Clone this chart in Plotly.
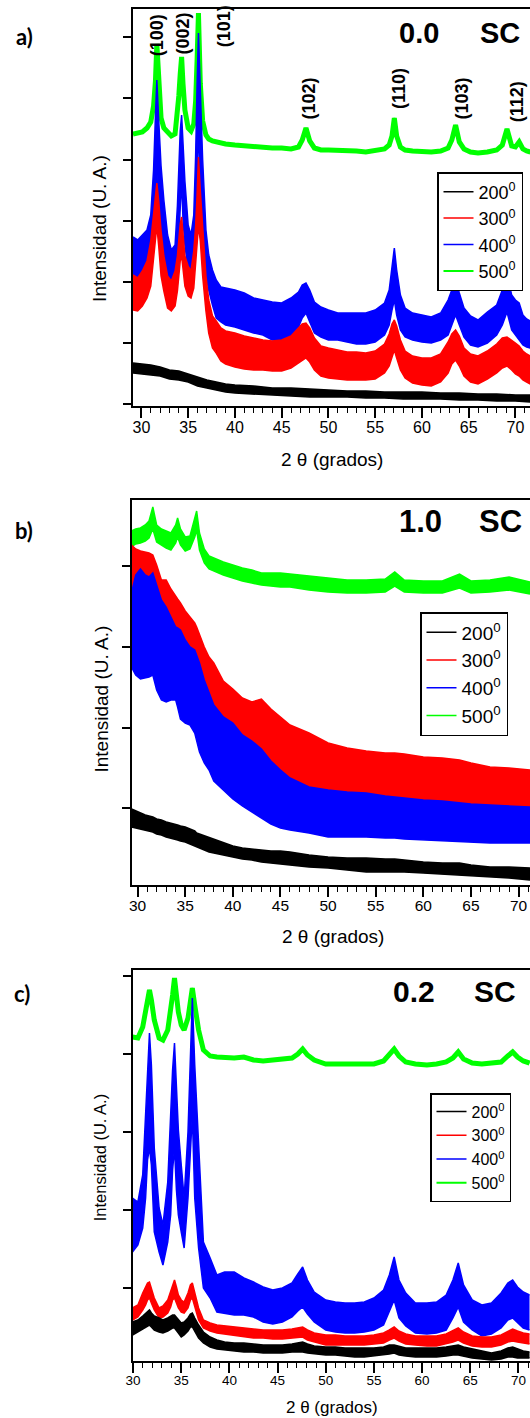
import plotly.graph_objects as go

W, H = 530, 1418

# ---------------- data: panel a) 0.0 SC ----------------
XA = [29.1, 29.6, 30.1, 30.6, 31.0, 31.3, 31.5, 31.65, 31.85, 32.1,
      32.4, 32.8, 33.2, 33.6, 33.85, 34.0, 34.15, 34.3, 34.45, 34.65,
      35.0, 35.3, 35.6, 35.8, 35.95, 36.1, 36.3, 36.55, 36.9, 37.2,
      37.6, 38.0, 38.5, 39.0, 40.0, 41.0, 42.0, 43.0, 44.0, 45.0,
      46.0, 46.8, 47.2, 47.6, 48.0, 48.5, 49.2, 50.0, 51.0, 52.0,
      53.0, 54.0, 55.0, 56.0, 56.5, 56.8, 57.05, 57.3, 57.7, 58.2,
      59.0, 60.0, 61.0, 62.0, 62.8, 63.2, 63.6, 64.0, 64.5, 65.2,
      66.0, 67.0, 68.0, 68.6, 69.1, 69.6, 70.0, 70.4, 70.8, 71.2,
      71.6]
A_500 = [272, 273, 274, 278, 284, 300, 325, 362, 318, 288,
         278, 273, 270, 272, 290, 310, 332, 349, 322, 296,
         278, 275, 282, 305, 345, 393, 322, 285, 271, 267,
         265, 264, 263, 262, 261, 260, 259, 259, 258, 258,
         257, 259, 266, 278, 265, 258, 256, 256, 256, 255,
         255, 254, 255, 257, 261, 270, 288, 270, 259, 256,
         255, 254, 254, 255, 258, 266, 281, 264, 257, 254,
         253, 254, 256, 261, 277, 260, 259, 264, 257, 255,
         254]
A_400_HI = [169, 166, 171, 176, 191, 236, 290, 326, 286, 240,
            206, 171, 156, 161, 200, 245, 275, 291, 266, 225,
            181, 171, 191, 250, 320, 373, 316, 246, 176, 151,
            136, 126, 119, 118, 116, 113, 108, 106, 104, 103,
            108, 114, 121, 123, 116, 104, 99, 96, 93, 93,
            93, 93, 96, 103, 116, 141, 158, 136, 111, 98,
            93, 91, 89, 93, 106, 116, 126, 113, 98, 90,
            86, 94, 101, 116, 131, 111, 106, 103, 91, 87,
            85]
A_400_LO = [126, 121, 126, 131, 151, 166, 190, 236, 186, 163,
            146, 126, 119, 121, 141, 171, 200, 226, 186, 161,
            136, 131, 141, 176, 226, 286, 206, 156, 131, 116,
            101, 88, 84, 81, 79, 76, 73, 71, 66, 66,
            70, 79, 88, 93, 84, 73, 69, 66, 66, 64,
            62, 62, 64, 71, 81, 96, 106, 91, 76, 69,
            66, 64, 63, 66, 71, 81, 91, 81, 69, 61,
            59, 63, 71, 81, 94, 76, 71, 66, 61, 59,
            58]
A_300_HI = [131, 128, 135, 145, 165, 190, 210, 223, 205, 175,
            150, 130, 125, 135, 150, 170, 182, 189, 175, 150,
            140, 135, 155, 180, 210, 249, 215, 175, 130, 106,
            90, 85, 78, 75, 73, 70, 68, 66, 65, 66,
            70, 78, 82, 83, 78, 68, 60, 58, 56, 54,
            54, 53, 55, 62, 72, 82, 86, 80, 66, 55,
            50, 48, 48, 52, 64, 72, 76, 70, 58, 52,
            50, 55, 62, 68, 69, 66, 63, 60, 55, 52,
            50]
A_300_LO = [96, 95, 100, 108, 120, 145, 165, 180, 160, 130,
            115, 98, 95, 100, 115, 130, 145, 150, 138, 120,
            110, 108, 118, 140, 160, 180, 165, 130, 95, 73,
            58, 53, 45, 42, 39, 37, 36, 36, 35, 35,
            38, 43, 46, 48, 44, 36, 30, 28, 27, 26,
            26, 26, 27, 33, 40, 50, 56, 48, 36, 28,
            23, 21, 20, 24, 33, 42, 46, 40, 30, 24,
            22, 27, 33, 38, 40, 36, 32, 30, 26, 24,
            22]
XA_200 = [29.1, 30, 31, 32, 33, 34, 35, 36, 37, 38, 39, 40, 42, 44,
          46, 48, 50, 52, 54, 56, 58, 60, 62, 64, 66, 68, 70, 71.6]
A_200_HI = [43, 42, 41, 39, 36, 35, 32, 29, 26, 24, 22, 21, 20, 18,
            18, 17, 16, 15, 15, 14, 14, 14, 13, 13, 12, 12, 11, 11]
A_200_LO = [33, 32, 31, 30, 27, 26, 24, 20, 18, 16, 14, 13, 12, 11,
            10, 9, 9, 9, 8, 8, 7, 7, 7, 6, 6, 5, 5, 4]

MILLER_LABELS = ["(100)", "(002)", "(101)", "(102)", "(110)", "(103)", "(112)"]
MILLER_X = [31.7, 34.4, 38.86, 47.97, 57.55, 64.24, 70.2]
MILLER_Y = [371, 372, 380, 308, 317, 307, 304]

# ---------------- data: panel b) 1.0 SC ----------------
XB = [29.36, 29.8, 30.3, 30.8, 31.2, 31.6, 32.0, 32.5, 33.0, 33.5,
      34.0, 34.2, 34.5, 35.0, 35.5, 36.0, 36.2, 36.5, 37.0, 37.5,
      38.0, 39.0, 40.0, 41.0, 42.0, 43.0, 44.0, 45.0, 46.0, 48.0,
      50.0, 52.0, 54.0, 56.0, 57.0, 58.0, 60.0, 62.0, 63.8, 65.0,
      67.0, 69.0, 71.2]
B_500_HI = [354, 356, 357, 360, 364, 378, 360, 356, 354, 352,
            360, 367, 356, 348, 349, 366, 374, 352, 336, 329,
            327, 323, 320, 317, 315, 312, 312, 312, 311, 309,
            307, 305, 305, 306, 313, 305, 304, 304, 311, 304,
            305, 308, 303]
B_500_LO = [338, 341, 342, 344, 347, 356, 343, 340, 337, 335,
            342, 348, 340, 334, 336, 348, 355, 335, 322, 316,
            314, 310, 307, 304, 302, 300, 299, 298, 298, 295,
            293, 292, 292, 293, 299, 293, 292, 292, 297, 292,
            293, 295, 291]
B_300_HI = [340, 336, 334, 333, 332, 330, 320, 305, 305, 296,
            288, 286, 282, 274, 268, 262, 258, 250, 238, 228,
            222, 204, 196, 187, 183, 186, 176, 168, 160, 152,
            142, 137, 134, 132, 132, 131, 128, 127, 125, 122,
            118, 117, 115]
B_300_LO = [260, 258, 255, 250, 248, 245, 235, 225, 215, 205,
            195, 192, 185, 178, 170, 160, 158, 150, 138, 128,
            120, 112, 105, 100, 96, 92, 88, 85, 82, 80,
            78, 76, 75, 74, 74, 73, 72, 71, 70, 69,
            67, 66, 65]
B_400_HI = [292, 310, 316, 310, 308, 312, 300, 285, 278, 268,
            258, 257, 255, 245, 238, 235, 230, 222, 205, 192,
            180, 168, 162, 150, 144, 136, 124, 115, 107, 98,
            95, 93, 92, 89, 88, 87, 85, 84, 82, 81,
            80, 79, 78]
B_400_LO = [218, 210, 206, 207, 208, 210, 195, 185, 183, 185,
            185, 178, 166, 162, 160, 152, 145, 133, 122, 115,
            104, 95, 86, 79, 73, 67, 61, 57, 55, 52,
            48, 48, 48, 47, 47, 46, 45, 44, 43, 43,
            42, 42, 42]
B_200_HI = [76, 74, 72, 70, 69, 68, 66, 65, 63, 62,
            61, 60, 59, 58, 56, 54, 52, 51, 49, 47,
            46, 42, 39, 37, 36, 35, 34, 34, 33, 30,
            28, 27, 27, 26, 26, 25, 23, 22, 22, 20,
            18, 18, 17]
B_200_LO = [58, 57, 56, 55, 54, 53, 51, 50, 48, 47,
            46, 45, 44, 43, 41, 39, 38, 37, 35, 33,
            32, 30, 28, 26, 25, 23, 22, 21, 20, 18,
            17, 15, 13, 13, 13, 13, 12, 11, 10, 9,
            8, 7, 5]

# ---------------- data: panel c) 0.2 SC ----------------
XC = [29.94, 30.5, 31.0, 31.3, 31.5, 31.7, 31.9, 32.2, 32.7, 33.1,
      33.6, 33.9, 34.1, 34.3, 34.5, 34.7, 35.0, 35.3, 35.7, 35.95,
      36.15, 36.4, 36.8, 37.3, 38.0, 38.7, 39.5, 40.5, 41.5, 42.5,
      43.5, 44.5, 45.5, 46.5, 47.1, 47.6, 48.1, 48.8, 50.0, 51.0,
      52.0, 53.0, 54.0, 55.0, 56.0, 56.6, 57.1, 57.6, 58.3, 59.3,
      60.5, 61.5, 62.5, 63.2, 63.75, 64.3, 65.2, 66.2, 67.2, 68.2,
      68.9, 69.4, 69.9, 70.5, 71.15]
C_500 = [324, 323, 334, 353, 366, 371, 361, 341, 323, 321,
         331, 349, 366, 383, 366, 349, 336, 331, 343, 361,
         373, 356, 331, 311, 305, 304, 303, 303, 304, 301,
         300, 301, 301, 303, 307, 312, 306, 301, 297, 297,
         296, 296, 296, 297, 300, 306, 312, 305, 299, 297,
         296, 297, 299, 303, 309, 302, 298, 297, 298, 299,
         305, 309, 304, 300, 298]
C_400_HI = [163, 159, 186, 246, 301, 328, 296, 213, 153, 136,
            179, 246, 291, 318, 271, 231, 196, 163, 229, 311,
            363, 296, 213, 119, 103, 86, 89, 89, 83, 79,
            74, 71, 73, 78, 87, 94, 81, 69, 61, 59,
            58, 58, 59, 63, 71, 86, 104, 81, 68, 58,
            58, 59, 66, 81, 98, 76, 61, 56, 58, 68,
            78, 81, 74, 69, 66]
C_400_LO = [109, 116, 133, 163, 201, 213, 196, 129, 109, 96,
            119, 146, 191, 213, 171, 146, 129, 113, 163, 211,
            246, 163, 113, 73, 63, 49, 48, 46, 46, 44,
            39, 37, 39, 44, 50, 54, 47, 39, 31, 29,
            28, 28, 29, 31, 36, 49, 61, 43, 35, 28,
            27, 28, 31, 43, 54, 39, 31, 25, 27, 33,
            41, 43, 38, 33, 31]
C_300_HI = [53, 56, 68, 74, 78, 79, 73, 63, 53, 55,
            61, 69, 76, 81, 74, 66, 61, 59, 68, 76,
            78, 69, 53, 41, 38, 36, 35, 34, 33, 32,
            31, 31, 31, 32, 33, 34, 31, 28, 26, 26,
            25, 25, 25, 26, 28, 31, 34, 30, 27, 25,
            25, 25, 27, 30, 33, 29, 25, 24, 24, 26,
            30, 32, 30, 28, 27]
C_300_LO = [41, 44, 51, 56, 61, 63, 58, 51, 43, 44,
            48, 54, 61, 63, 58, 53, 49, 48, 53, 61,
            63, 55, 41, 33, 30, 28, 27, 25, 24, 23,
            23, 22, 22, 23, 23, 24, 21, 19, 16, 16,
            16, 16, 16, 17, 18, 21, 23, 20, 17, 16,
            15, 15, 17, 19, 21, 18, 15, 14, 14, 16,
            19, 20, 19, 18, 17]
C_200_HI = [39, 41, 45, 48, 50, 51, 48, 45, 43, 41,
            43, 45, 46, 46, 44, 41, 38, 39, 43, 47,
            48, 43, 36, 29, 24, 21, 19, 18, 18, 17,
            16, 16, 16, 17, 18, 19, 17, 15, 14, 14,
            13, 13, 13, 13, 14, 16, 16, 15, 13, 13,
            13, 13, 14, 15, 16, 14, 12, 10, 8, 10,
            13, 14, 12, 10, 9]
C_200_LO = [26, 29, 32, 34, 35, 36, 34, 31, 29, 28,
            30, 32, 33, 33, 31, 28, 24, 26, 30, 34,
            34, 30, 23, 18, 14, 12, 11, 10, 9, 9,
            8, 8, 8, 9, 9, 9, 8, 7, 6, 6,
            5, 4, 4, 5, 6, 7, 8, 6, 5, 4,
            4, 4, 5, 6, 6, 5, 3, 2, 1, 2,
            4, 4, 3, 3, 3]

COLORS = {"200": "#000000", "300": "#ff0000", "400": "#0000ff", "500": "#00ff00"}
RANK = {"200": 1, "300": 2, "400": 3, "500": 4}
FONT = "Arial, 'Liberation Sans', sans-serif"

fig = go.Figure()


def label(key):
    return key + "<sup>0</sup>"


def band(x, lo, hi, key, xa, ya, leg):
    c = COLORS[key]
    fig.add_trace(go.Scatter(x=x, y=lo, mode="lines", line=dict(color=c, width=1.5),
                             name=label(key), legend=leg, legendrank=RANK[key],
                             xaxis=xa, yaxis=ya, hoverinfo="skip"))
    fig.add_trace(go.Scatter(x=x, y=hi, mode="lines", line=dict(color=c, width=1.5),
                             fill="tonexty", fillcolor=c, showlegend=False,
                             xaxis=xa, yaxis=ya, hoverinfo="skip"))


def thick(x, y, key, xa, ya, leg, width):
    c = COLORS[key]
    fig.add_trace(go.Scatter(x=x, y=y, mode="lines", line=dict(color=c, width=2),
                             name=label(key), legend=leg, legendrank=RANK[key],
                             xaxis=xa, yaxis=ya, hoverinfo="skip"))
    fig.add_trace(go.Scatter(x=x, y=y, mode="lines", line=dict(color=c, width=width),
                             showlegend=False, xaxis=xa, yaxis=ya, hoverinfo="skip"))


# panel a (red drawn over blue)
thick(XA, A_500, "500", "x", "y", "legend", 5)
band(XA, A_400_LO, A_400_HI, "400", "x", "y", "legend")
band(XA, A_300_LO, A_300_HI, "300", "x", "y", "legend")
band(XA_200, A_200_LO, A_200_HI, "200", "x", "y", "legend")
# panel b (blue drawn over red)
band(XB, B_500_LO, B_500_HI, "500", "x2", "y2", "legend2")
band(XB, B_300_LO, B_300_HI, "300", "x2", "y2", "legend2")
band(XB, B_400_LO, B_400_HI, "400", "x2", "y2", "legend2")
band(XB, B_200_LO, B_200_HI, "200", "x2", "y2", "legend2")
# panel c
thick(XC, C_500, "500", "x3", "y3", "legend3", 5)
band(XC, C_400_LO, C_400_HI, "400", "x3", "y3", "legend3")
band(XC, C_300_LO, C_300_HI, "300", "x3", "y3", "legend3")
band(XC, C_200_LO, C_200_HI, "200", "x3", "y3", "legend3")


def px(v):
    return v / W


def py(v):
    return 1 - v / H


def xaxis(left, rng, fs, anchor):
    return dict(domain=[px(left), 1], range=rng, anchor=anchor,
                showline=True, linecolor="black", linewidth=1.5, mirror=True,
                ticks="outside", ticklen=10, tickwidth=1.5, tickcolor="black",
                tick0=0, dtick=5, ticklabelstandoff=-4,
                minor=dict(dtick=1, ticks="outside", ticklen=5, tickwidth=1.2, tickcolor="black"),
                tickfont=dict(family=FONT, size=fs, color="black"),
                showgrid=False, zeroline=False)


def yaxis(top, bottom, rng, t0, dt, anchor):
    return dict(domain=[py(bottom), py(top)], range=rng, anchor=anchor,
                showline=True, linecolor="black", linewidth=1.5, mirror=False,
                ticks="outside", ticklen=8, tickwidth=1.5, tickcolor="black",
                tick0=t0, dtick=dt, showticklabels=False,
                showgrid=False, zeroline=False)


fig.update_layout(
    width=W, height=H,
    margin=dict(l=0, r=0, t=0, b=0, autoexpand=False),
    paper_bgcolor="white", plot_bgcolor="white",
    xaxis=xaxis(133, [29.1, 71.56], 16, "y"),
    yaxis=yaxis(9, 406, [0, 397], 1.7, 61.2, "x"),
    xaxis2=xaxis(131.5, [29.36, 71.2], 15.5, "y2"),
    yaxis2=yaxis(500, 885, [0, 385], 76.7, 80.8, "x2"),
    xaxis3=xaxis(132.5, [29.94, 71.2], 13.5, "y3"),
    yaxis3=yaxis(970, 1361, [0, 391], 73.3, 78, "x3"),
)

for name, lx, ly, fs in [("legend", 437, 172, 18), ("legend2", 420, 612, 19), ("legend3", 430, 1093, 16)]:
    fig.update_layout({name: dict(x=px(lx), y=py(ly), xanchor="left", yanchor="top",
                                  bgcolor="white", bordercolor="black", borderwidth=1.5,
                                  font=dict(family=FONT, size=fs, color="black"),
                                  traceorder="normal")})

ann = []
# panel letters
for t, x, y in [("a)", 24, 37), ("b)", 24, 530), ("c)", 22, 993)]:
    ann.append(dict(text="<b>" + t + "</b>", x=px(x), y=py(y), xref="paper", yref="paper",
                    xanchor="center", yanchor="middle", showarrow=False,
                    font=dict(family="Lato, sans-serif", size=22, color="black")))
# sample labels
for t, x, y, fs in [("0.0", 397, 32.5, 29), ("SC", 478, 32.5, 29),
                    ("1.0", 397, 521, 31), ("SC", 476.7, 521, 31),
                    ("0.2", 390.5, 991, 30), ("SC", 471.6, 991, 30)]:
    ann.append(dict(text="<b>" + t + "</b>", x=px(x), y=py(y), xref="paper", yref="paper",
                    xanchor="left", yanchor="middle", showarrow=False,
                    font=dict(family=FONT, size=fs, color="black")))
# axis titles
for x, y, fs in [(332, 460, 19), (333, 936, 19), (332, 1407, 17)]:
    ann.append(dict(text="2 θ (grados)", x=px(x), y=py(y), xref="paper", yref="paper",
                    xanchor="center", yanchor="middle", showarrow=False,
                    font=dict(family=FONT, size=fs, color="black")))
for x, y, fs in [(99.4, 228.5, 19), (100.5, 699, 19), (99.8, 1157.5, 16.5)]:
    ann.append(dict(text="Intensidad (U. A.)", x=px(x), y=py(y), xref="paper", yref="paper",
                    xanchor="center", yanchor="middle", textangle=-90, showarrow=False,
                    font=dict(family=FONT, size=fs, color="black")))
# Miller indices (panel a)
for t, x, y in zip(MILLER_LABELS, MILLER_X, MILLER_Y):
    ann.append(dict(text="<b>" + t + "</b>", x=x, y=y, xref="x", yref="y", textangle=-90,
                    xanchor="center", yanchor="middle", showarrow=False,
                    font=dict(family=FONT, size=18, color="black")))

fig.update_layout(annotations=ann)

fig.write_html("out.html")
